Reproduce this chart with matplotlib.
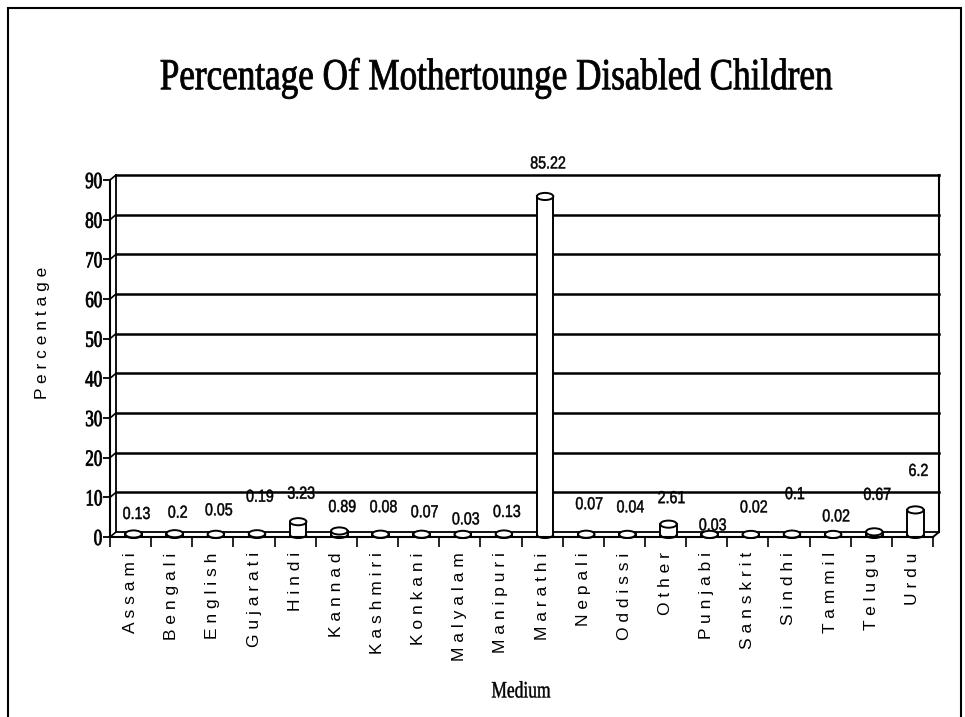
import matplotlib
matplotlib.use("Agg")
import matplotlib.pyplot as plt
from matplotlib.patches import Ellipse, Arc, Rectangle, ConnectionPatch
from matplotlib.patheffects import AbstractPathEffect
from matplotlib.transforms import Affine2D, ScaledTranslation

# Mother tongue of disabled children, percent of total
languages = ["Assami", "Bengali", "English", "Gujarati", "Hindi", "Kannad",
             "Kashmiri", "Konkani", "Malyalam", "Manipuri", "Marathi", "Nepali",
             "Oddissi", "Other", "Punjabi", "Sanskrit", "Sindhi", "Tammil",
             "Telugu", "Urdu"]
percentages = [0.13, 0.2, 0.05, 0.19, 3.23, 0.89, 0.08, 0.07, 0.03, 0.13,
               85.22, 0.07, 0.04, 2.61, 0.03, 0.02, 0.1, 0.02, 0.67, 6.2]
y_ticks = list(range(0, 100, 10))

# how far (px) each value label floats above its cylinder top
label_lift = [17, 18, 21, 34, 25, 21, 24, 19, 12, 19,
              30, 27, 24, 23, 6, 24, 37, 15, 34, 36]


class Squeeze(AbstractPathEffect):
    """Draw text narrower (condensed) about one edge, with optional stroke."""

    def __init__(self, sx=0.8, anchor="center", stroke=0.0):
        super().__init__()
        self.sx = sx
        self.anchor = anchor
        self.stroke = stroke

    def draw_path(self, renderer, gc, tpath, affine, rgbFace=None):
        ext = tpath.get_extents(affine)
        x0 = {"left": ext.x0, "right": ext.x1}.get(self.anchor,
                                                   (ext.x0 + ext.x1) / 2)
        aff = affine + Affine2D().translate(-x0, 0).scale(self.sx, 1).translate(x0, 0)
        gc0 = renderer.new_gc()
        gc0.copy_properties(gc)
        if self.stroke > 0:
            gc0.set_linewidth(self.stroke)
            gc0.set_foreground(rgbFace if rgbFace is not None else "black")
        renderer.draw_path(gc0, tpath, aff, rgbFace)
        gc0.restore()


DPI = 100
fig = plt.figure(figsize=(9.65, 7.17), dpi=DPI)

# outer frame
fig.add_artist(Rectangle((8 / 965, -0.05), 953 / 965, 1.05 - 8 / 717,
                         transform=fig.transFigure, fill=False,
                         edgecolor="black", lw=1.5))

ax = fig.add_axes([110 / 965, (717 - 537) / 717, 823 / 965, 357 / 717])
n = len(languages)
ax.set_xlim(-0.5, n - 0.5)
ax.set_ylim(0, 90)
ax.patch.set_visible(False)
for side in ["top", "right"]:
    ax.spines[side].set_visible(False)
for side in ["left", "bottom"]:
    ax.spines[side].set_linewidth(1.5)

# depth offsets for the pseudo-3D look
back = ax.transData + ScaledTranslation(6 / DPI, 5 / DPI, fig.dpi_scale_trans)
mid = ax.transData + ScaledTranslation(3 / DPI, 2.5 / DPI, fig.dpi_scale_trans)

line_kw = dict(color="black", lw=1.8, clip_on=False)
for v in y_ticks[1:]:
    ax.plot([-0.5, n - 0.5], [v, v], transform=back, **line_kw)
ax.plot([-0.5, n - 0.5], [0, 0], transform=back, color="black", lw=1.3,
        clip_on=False)
ax.plot([-0.5, -0.5], [0, 90], transform=back, color="black", lw=1.3,
        clip_on=False)
ax.plot([n - 0.5, n - 0.5], [0, 90], transform=back, color="black", lw=1.5,
        clip_on=False)
for v in y_ticks:
    ax.add_artist(ConnectionPatch((-0.5, v), (-0.5, v), ax.transData, back,
                                  color="black", lw=1.2))
ax.add_artist(ConnectionPatch((n - 0.5, 0), (n - 0.5, 0), ax.transData, back,
                              color="black", lw=1.4))

# cylinders
cyl_w = 0.4
cap_h = 1.8
for i, v in enumerate(percentages):
    ax.add_patch(Rectangle((i - cyl_w / 2, 0), cyl_w, v, transform=mid,
                           facecolor="white", edgecolor="none", zorder=3,
                           clip_on=False))
    ax.add_patch(Arc((i, 0), cyl_w, cap_h, theta1=180, theta2=360,
                     transform=mid, color="black", lw=1.4, zorder=4,
                     clip_on=False))
    ax.plot([i - cyl_w / 2] * 2, [0, v], transform=mid, color="black",
            lw=1.4, zorder=4, clip_on=False)
    ax.plot([i + cyl_w / 2] * 2, [0, v], transform=mid, color="black",
            lw=1.4, zorder=4, clip_on=False)
    ax.add_patch(Ellipse((i, v), cyl_w, cap_h, transform=mid,
                         facecolor="white", edgecolor="black", lw=1.4,
                         zorder=5, clip_on=False))
    ax.annotate(f"{v:g}", (i, v), xycoords=back,
                xytext=(0, label_lift[i] * 72 / DPI), textcoords="offset points",
                ha="center", va="center", fontsize=12.5,
                family="Liberation Sans", zorder=6, annotation_clip=False,
                path_effects=[Squeeze(0.82, "center", 0.35)])

# axes ticks and labels
ax.set_yticks(y_ticks)
ax.set_yticklabels([str(t) for t in y_ticks], family="Liberation Serif",
                   fontsize=16.5)
for lab in ax.get_yticklabels():
    lab.set_path_effects([Squeeze(0.74, "right", 0.6)])
ax.tick_params(axis="y", length=5, width=1.3, pad=0.5)

ax.set_xticks(range(n))
ax.set_xticklabels([" ".join(name) for name in languages], rotation=90,
                   family="Liberation Sans", fontsize=12.5)
ax.tick_params(axis="x", which="major", length=0, pad=11)
ax.set_xticks([i - 0.5 for i in range(n + 1)], minor=True)
ax.tick_params(axis="x", which="minor", length=7, width=1.2)

fig.text(43 / 965, 1 - 333 / 717, " ".join("Percentage"), rotation=90,
         ha="center", va="center", fontsize=12.5, family="Liberation Sans")
fig.text(521 / 965, 1 - 692 / 717, "Medium", ha="center", va="center",
         fontsize=17, family="Liberation Serif",
         path_effects=[Squeeze(0.74, "center", 0.3)])
fig.text(497 / 965, 1 - 78 / 717, "Percentage Of Mothertounge Disabled Children",
         ha="center", va="center", fontsize=32, family="Liberation Serif",
         path_effects=[Squeeze(0.79, "center", 0.6)])

fig.savefig("out.png", dpi=DPI)
